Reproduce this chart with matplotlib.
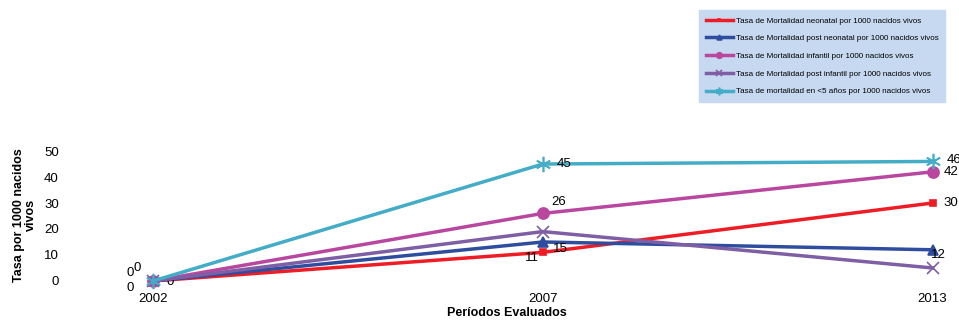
import matplotlib
matplotlib.use('Agg')
import matplotlib.pyplot as plt

anios = ['2002', '2007', '2013']
neonatal = [0, 11, 30]
post_neonatal = [0, 15, 12]
infantil = [0, 26, 42]
post_infantil = [0, 19, 5]
menor5 = [0, 45, 46]

nombres = ['Tasa de Mortalidad neonatal por 1000 nacidos vivos',
           'Tasa de Mortalidad post neonatal por 1000 nacidos vivos',
           'Tasa de Mortalidad infantil por 1000 nacidos vivos',
           'Tasa de Mortalidad post infantil por 1000 nacidos vivos',
           'Tasa de mortalidad en <5 años por 1000 nacidos vivos']

plt.rcParams['font.family'] = ['Liberation Sans', 'DejaVu Sans']

fig = plt.figure(figsize=(9.59, 3.2), dpi=100)
ax = fig.add_axes([0.073, 0.122, 0.912, 0.406])
x = range(len(anios))

series = [
    (neonatal, '#ee1c25', 's', 4, [(-19, -5), (-13, -4), (8, 0)]),
    (post_neonatal, '#2f4d9e', '^', 7, [(10, -1), (7, -5), (-1, -4)]),
    (infantil, '#b9479f', 'o', 8, [(-14, 9), (6, 8), (8, 0)]),
    (post_infantil, '#7e5ea4', 'x', 9, []),
    (menor5, '#43adc8', (6, 2, 0), 11, [(-19, 6), (10, 0), (10, 1)]),
]

for (vals, color, mk, ms, offs), nombre in zip(series, nombres):
    ax.plot(x, vals, color=color, lw=2.5, marker=mk, markersize=ms,
            markeredgewidth=1.2, label=nombre, clip_on=False, zorder=3)
    for i, (v, o) in enumerate(zip(vals, offs)):
        ax.annotate(str(v), (i, v), xytext=o, textcoords='offset points',
                    fontsize=9.5, va='center', ha='left', annotation_clip=False)

ax.set_xlim(-0.213, 2.031)
ax.set_ylim(0, 50)
ax.set_xticks(list(x))
ax.set_xticklabels(anios, fontsize=9)
ax.set_yticks(range(0, 51, 10))
ax.tick_params(axis='both', length=0, labelsize=9.5)
ax.tick_params(axis='y', pad=8)
ax.tick_params(axis='x', pad=9)
for s in ax.spines.values():
    s.set_visible(False)

ax.set_xlabel('Períodos Evaluados', fontsize=9, fontweight='bold', labelpad=1)
fig.text(25 / 959, 1 - 215 / 320, 'Tasa por 1000 nacidos\nvivos', fontsize=9,
         fontweight='bold', rotation=90, ha='center', va='center',
         multialignment='center', linespacing=1.0)

leg = fig.legend(loc='upper left', bbox_to_anchor=(0.725, 0.98), fontsize=5.8,
                 frameon=True, fancybox=False, facecolor='#c6d9f0', edgecolor='#c6d9f0',
                 labelspacing=1.25, handlelength=3.4, handletextpad=0.3,
                 markerscale=0.5, borderpad=0.8, framealpha=1)

fig.savefig('out.png', dpi=100)
